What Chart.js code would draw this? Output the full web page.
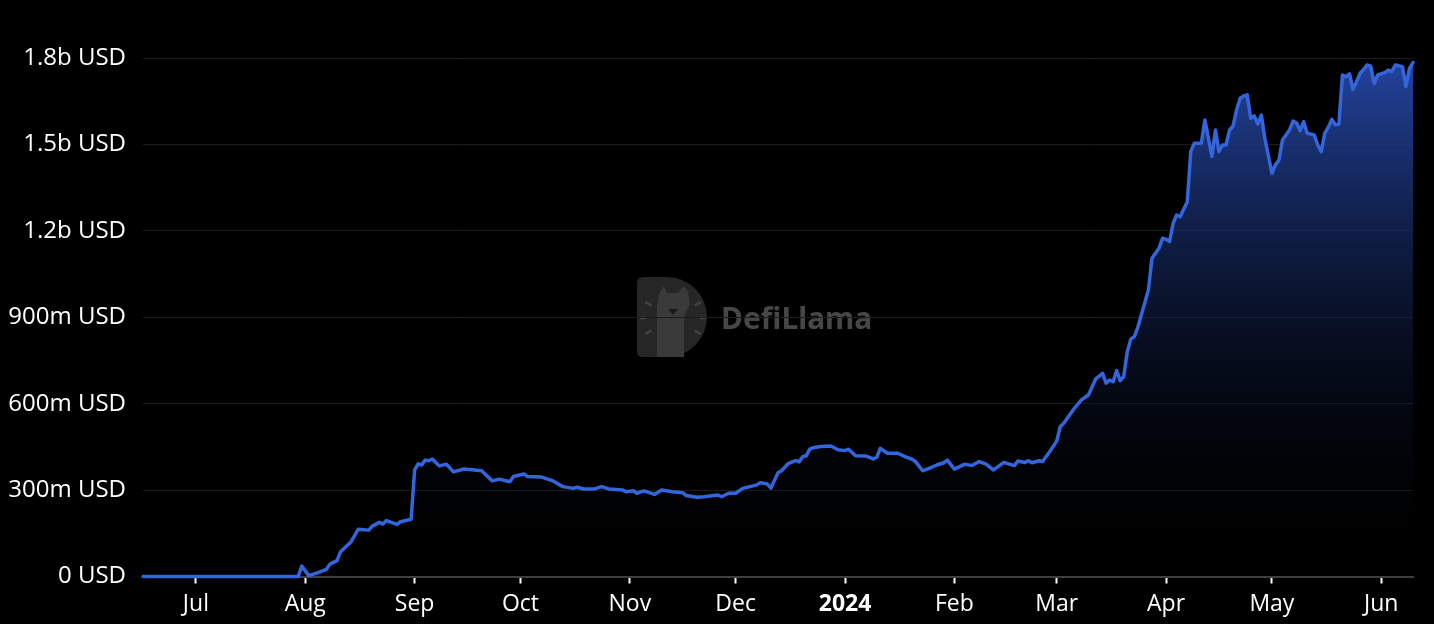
<!DOCTYPE html>
<html>
<head>
<meta charset="utf-8">
<script src="https://cdn.jsdelivr.net/npm/chart.js@4.4.1/dist/chart.umd.min.js"></script>
<style>
  html, body { margin: 0; padding: 0; background: #000; }
  #wrap { width: 1434px; height: 624px; }
</style>
</head>
<body>
<div id="wrap"><canvas id="tvl" width="1434" height="624"></canvas></div>
<script>
// day index counted from 16 Jun 2023
const monthDays = [15, 46, 77, 107, 138, 168, 199, 230, 259, 290, 320, 351];
const monthLabels = ['Jul', 'Aug', 'Sep', 'Oct', 'Nov', 'Dec', '2024', 'Feb', 'Mar', 'Apr', 'May', 'Jun'];
const yTicks = [0, 300, 600, 900, 1200, 1500, 1800];

// TVL in millions of USD
const days = [
    0, 44, 45, 47, 49, 52, 53, 55, 56, 59, 61, 64, 65, 67, 68, 69, 72, 73, 76, 77,
    78, 79, 80, 81, 82, 84, 86, 88, 91, 94, 96, 99, 101, 104, 105, 108, 109, 113, 116, 119,
    122, 123, 125, 128, 130, 132, 136, 137, 139, 140, 142, 145, 147, 150, 153, 154, 157, 159, 163, 164,
    166, 168, 170, 172, 174, 175, 177, 178, 180, 181, 183, 185, 186, 187, 188, 189, 190, 192, 195, 197,
    199, 200, 202, 205, 207, 208, 209, 211, 214, 216, 218, 219, 221, 223, 225, 227, 228, 230, 233, 235,
    237, 239, 241, 242, 244, 247, 248, 250, 251, 252, 254, 255, 257, 259, 260, 261, 264, 266, 268, 270,
    272, 273, 274, 275, 276, 277, 278, 279, 280, 281, 282, 285, 286, 287, 288, 289, 290, 291, 292, 293,
    294, 295, 296, 297, 298, 300, 301, 303, 304, 305, 306, 307, 308, 309, 310, 311, 312, 313, 314, 315,
    316, 317, 318, 320, 321, 322, 323, 325, 326, 327, 328, 329, 330, 332, 333, 334, 335, 336, 337, 338,
    339, 340, 341, 342, 343, 344, 345, 346, 347, 348, 349, 350, 352, 353, 354, 355, 357, 358, 359, 360
];
const tvl = [
    0, 0, 36, 3, 11, 25, 43, 55, 86, 121, 164, 161, 175, 188, 182, 194, 181, 190, 199, 370,
    391, 387, 404, 402, 408, 384, 390, 363, 373, 370, 367, 332, 338, 329, 347, 356, 347, 345, 333, 312,
    306, 310, 304, 304, 312, 304, 300, 294, 298, 289, 297, 285, 300, 294, 291, 281, 275, 277, 283, 277,
    289, 289, 306, 312, 318, 326, 321, 307, 360, 367, 393, 402, 398, 416, 419, 442, 447, 451, 453, 440,
    437, 442, 419, 418, 408, 414, 445, 428, 428, 416, 407, 399, 367, 376, 387, 395, 404, 373, 390, 385,
    399, 390, 370, 378, 396, 385, 401, 396, 402, 395, 402, 399, 433, 470, 520, 532, 584, 613, 630, 685,
    705, 671, 682, 676, 715, 680, 694, 780, 824, 833, 865, 995, 1105, 1122, 1140, 1174, 1171, 1163, 1226, 1255,
    1249, 1275, 1300, 1475, 1504, 1504, 1585, 1458, 1550, 1475, 1498, 1498, 1550, 1564, 1620, 1660, 1668, 1672, 1591, 1599,
    1571, 1602, 1521, 1400, 1429, 1446, 1515, 1550, 1581, 1574, 1548, 1579, 1539, 1533, 1498, 1475, 1539, 1560, 1587, 1568,
    1571, 1741, 1735, 1745, 1691, 1718, 1747, 1760, 1776, 1772, 1712, 1741, 1749, 1758, 1753, 1776, 1770, 1701, 1764, 1784
];

const FONT = 'Open Sans';

function formatUsd(v) {
    if (v === 0) return '0 USD';
    if (v < 1000) return v + 'm USD';
    return (v / 1000).toFixed(1) + 'b USD';
}

// faint DefiLlama mark behind the series
const watermark = {
    id: 'watermark',
    beforeDraw(chart) {
        const ctx = chart.ctx;
        ctx.save();
        const x0 = 637, y0 = 277, h = 80, r = 40;
        ctx.beginPath();
        ctx.moveTo(x0 + 6, y0);
        ctx.lineTo(x0 + 70 - r, y0);
        ctx.arc(x0 + 70 - r, y0 + r, r, -Math.PI / 2, Math.PI / 2);
        ctx.lineTo(x0 + 6, y0 + h);
        ctx.quadraticCurveTo(x0, y0 + h, x0, y0 + h - 6);
        ctx.lineTo(x0, y0 + 6);
        ctx.quadraticCurveTo(x0, y0, x0 + 6, y0);
        ctx.fillStyle = '#262626';
        ctx.fill();
        // llama
        ctx.fillStyle = '#3a3a3a';
        ctx.beginPath();
        ctx.moveTo(657, 357);
        ctx.lineTo(657, 304);
        ctx.lineTo(660, 292);
        ctx.lineTo(664, 286);
        ctx.lineTo(667, 293);
        ctx.lineTo(678, 293);
        ctx.lineTo(684, 286);
        ctx.lineTo(688, 292);
        ctx.lineTo(690, 304);
        ctx.lineTo(684, 316);
        ctx.lineTo(684, 357);
        ctx.closePath();
        ctx.fill();
        ctx.fillStyle = '#1a1a1a';
        ctx.beginPath();
        ctx.moveTo(668, 309);
        ctx.lineTo(678, 309);
        ctx.lineTo(673, 315);
        ctx.closePath();
        ctx.fill();
        ctx.strokeStyle = '#444';
        ctx.lineWidth = 2.5;
        ctx.lineCap = 'round';
        [[-150, 26, 31], [-30, 26, 31], [180, 28, 32], [0, 28, 32], [150, 26, 31], [30, 26, 31]].forEach(([a, r1, r2]) => {
            const t = a * Math.PI / 180;
            ctx.beginPath();
            ctx.moveTo(673 + Math.cos(t) * r1, 318 + Math.sin(t) * r1);
            ctx.lineTo(673 + Math.cos(t) * r2, 318 + Math.sin(t) * r2);
            ctx.stroke();
        });
        ctx.fillStyle = '#474747';
        ctx.font = 'bold 30px "Noto Sans"';
        ctx.textBaseline = 'middle';
        ctx.fillText('DefiLlama', 721, 320);
        ctx.restore();
    },
};

const canvas = document.getElementById('tvl');
const g = canvas.getContext('2d').createLinearGradient(0, 58, 0, 577);
g.addColorStop(0, 'rgba(36, 68, 160, 1)');
g.addColorStop(1, 'rgba(0, 0, 0, 0)');

new Chart(canvas, {
    type: 'line',
    data: {
        datasets: [{
            data: days.map((d, i) => ({ x: d, y: tvl[i] })),
            borderColor: '#3366dd',
            backgroundColor: g,
            borderWidth: 3.5,
            borderJoinStyle: 'round',
            borderCapStyle: 'round',
            fill: 'origin',
            tension: 0,
            pointRadius: 0,
            clip: 6,
        }],
    },
    options: {
        responsive: false,
        animation: false,
        devicePixelRatio: 1,
        layout: { padding: { top: 58, right: 21, bottom: 0, left: 0 } },
        plugins: {
            legend: { display: false },
            tooltip: { enabled: false },
        },
        scales: {
            x: {
                type: 'linear',
                min: 0,
                max: 360,
                afterFit: (s) => { s.height = 47.5; },
                afterBuildTicks: (s) => { s.ticks = monthDays.map(v => ({ value: v })); },
                border: { color: '#3f3f3f', width: 2 },
                grid: {
                    drawOnChartArea: false,
                    drawTicks: true,
                    tickLength: 7,
                    tickColor: '#ffffff',
                    tickWidth: 2,
                },
                ticks: {
                    autoSkip: false,
                    maxRotation: 0,
                    padding: 7,
                    color: '#ffffff',
                    font: (c) => ({
                        family: FONT,
                        size: 23,
                        weight: c.tick && c.tick.value === 199 ? 'bold' : 'normal',
                    }),
                    callback: (v) => monthLabels[monthDays.indexOf(v)],
                },
            },
            y: {
                min: 0,
                max: 1800,
                afterFit: (s) => { s.width = 143; },
                afterBuildTicks: (s) => { s.ticks = yTicks.map(v => ({ value: v })); },
                border: { display: false },
                grid: { color: '#1c1c1c', lineWidth: 1, drawTicks: false },
                ticks: {
                    padding: 17,
                    color: '#ffffff',
                    font: { family: FONT, size: 24 },
                    callback: formatUsd,
                },
            },
        },
    },
    plugins: [watermark],
});
</script>
</body>
</html>
